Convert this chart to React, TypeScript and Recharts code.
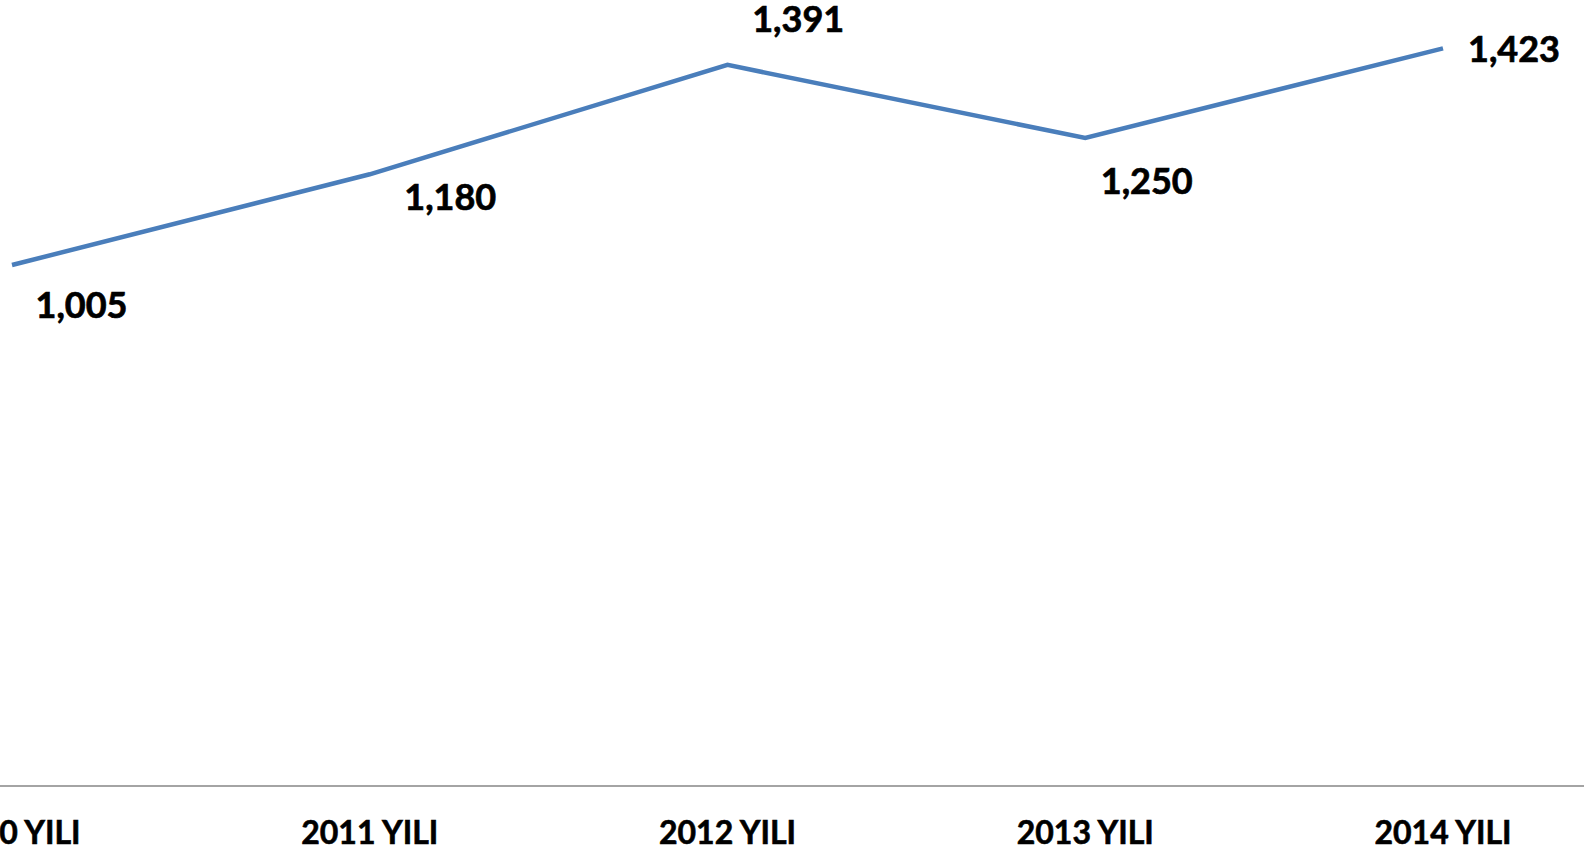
import React from "react";
import { LineChart, Line, XAxis, YAxis, LabelList } from "recharts";

const categories = ["2010 YILI", "2011 YILI", "2012 YILI", "2013 YILI", "2014 YILI"];
const values = [1005, 1180, 1391, 1250, 1423];
const yDomain: [number, number] = [0, 1500];

// label placement offsets (style): [dx, dy] from the point to the label centre
const labelOffsets: [number, number][] = [
  [69.5, 40.5],
  [80.5, 23.7],
  [70.7, -45.7],
  [61.5, 43.4],
  [71, 1.2],
];

const data = categories.map((c, i) => ({ name: c, value: values[i] }));

const FONT = "Lato, 'Open Sans', sans-serif";

const fmt = (v: number) => v.toLocaleString("en-US");

const DataLabel = (props: any) => {
  const { x, y, index, value } = props;
  const [dx, dy] = labelOffsets[index] || [0, 0];
  return (
    <text
      x={x + dx}
      y={y + dy + 12.5}
      textAnchor="middle"
      fontFamily={FONT}
      fontWeight={700}
      fontSize={36}
      fill="#000"
      stroke="#000"
      strokeWidth={0.7}
    >
      {fmt(Number(value))}
    </text>
  );
};

const Tick = (props: any) => {
  const { x, y, payload } = props;
  return (
    <text
      x={x}
      y={y + 58}
      textAnchor="middle"
      fontFamily={FONT}
      fontWeight={700}
      fontSize={32}
      fill="#000"
      stroke="#000"
      strokeWidth={0.6}
    >
      {payload.value}
    </text>
  );
};

export default function App() {
  return (
    <div
      style={{
        position: "absolute",
        left: 0,
        top: 0,
        width: 1584,
        height: 853,
        overflow: "hidden",
        background: "#fff",
      }}
    >
      <div style={{ position: "absolute", left: -167, top: 0 }}>
        <LineChart
          width={1789}
          height={853}
          data={data}
          margin={{ top: 8.4, right: 0, bottom: 0, left: 0 }}
        >
          <XAxis
            dataKey="name"
            height={67}
            padding={{ left: 179, right: 179 }}
            tickLine={false}
            tickSize={0}
            tickMargin={0}
            axisLine={{ stroke: "#868686", strokeWidth: 1.5 }}
            tick={<Tick />}
            interval={0}
          />
          <YAxis hide domain={yDomain} />
          <Line
            dataKey="value"
            stroke="#4A7EBB"
            strokeWidth={4.5}
            dot={false}
            activeDot={false}
            isAnimationActive={false}
          >
            <LabelList dataKey="value" content={<DataLabel />} />
          </Line>
        </LineChart>
      </div>
    </div>
  );
}
